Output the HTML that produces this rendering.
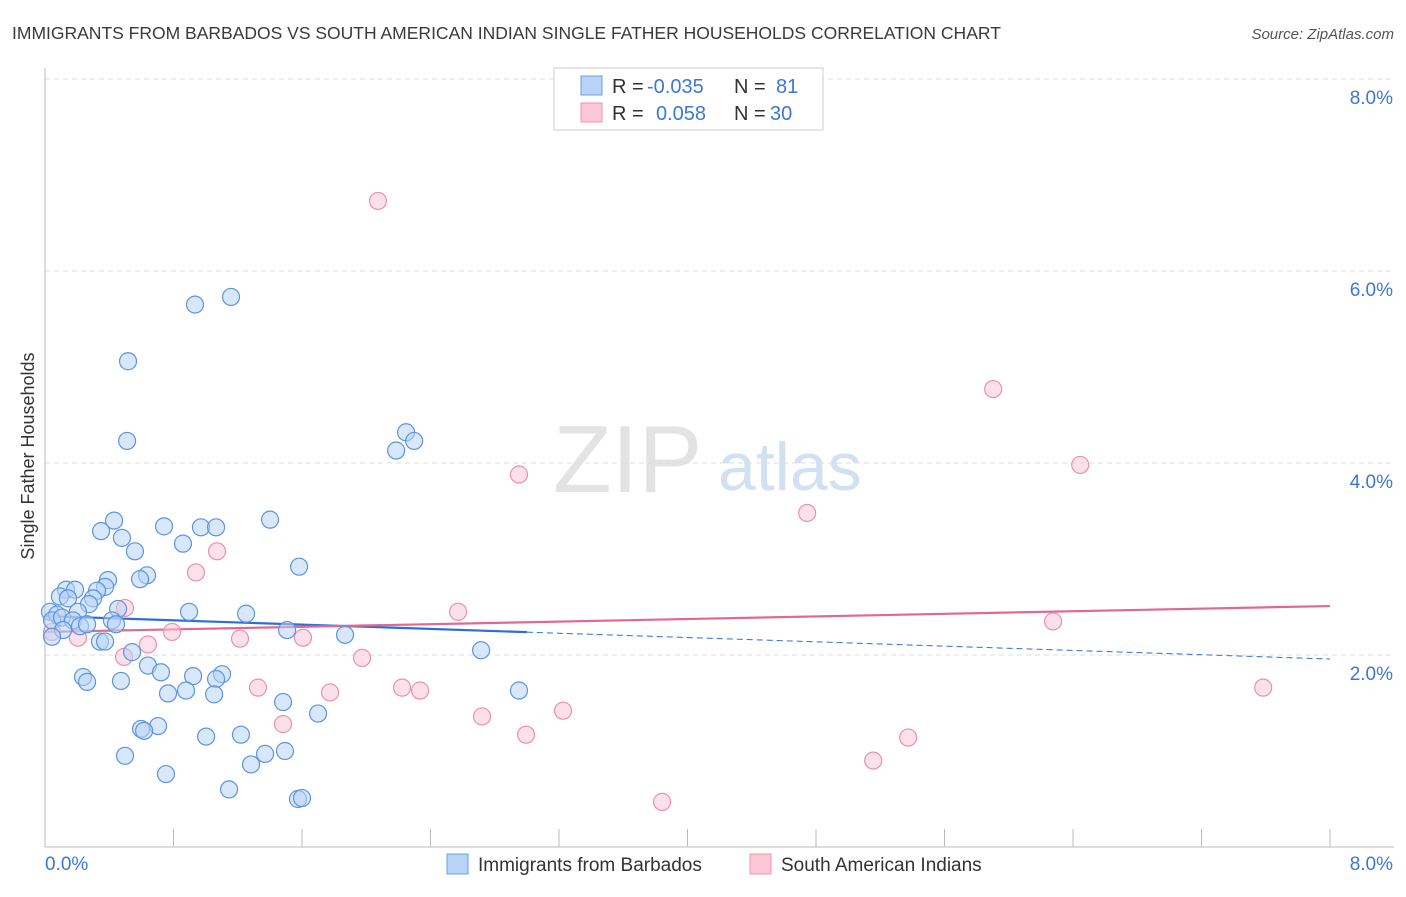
<!DOCTYPE html>
<html><head><meta charset="utf-8"><style>
body{margin:0;background:#fff;font-family:"Liberation Sans",sans-serif;}
svg text{font-family:"Liberation Sans",sans-serif;}
</style></head><body>
<svg id="chart" width="1406" height="892" xmlns="http://www.w3.org/2000/svg">
<text x="12" y="39" font-size="17.5" fill="#3a3a3a">IMMIGRANTS FROM BARBADOS VS SOUTH AMERICAN INDIAN SINGLE FATHER HOUSEHOLDS CORRELATION CHART</text>
<text x="1394" y="39" font-size="15" fill="#555" text-anchor="end" font-style="italic">Source: ZipAtlas.com</text>
<text x="553" y="492" font-size="96" fill="#ddd" font-family="Liberation Serif" opacity="0.8">ZIP</text>
<text x="718" y="490" font-size="68" fill="#c8daf0" opacity="0.8">atlas</text>
<text transform="translate(34,456) rotate(-90)" font-size="18" fill="#333" text-anchor="middle">Single Father Households</text>
<g id="grid"></g><g id="axes"></g><g id="lines"></g><g id="pts"></g>
<g>
<rect x="554" y="68" width="269" height="62" fill="#fff" stroke="#ccc"/>
<rect x="581" y="76" width="21" height="19" fill="#b8d3f5" stroke="#6a9fe0"/>
<rect x="581" y="103" width="21" height="19" fill="#fcc8d8" stroke="#ef90ae"/>
<text x="612" y="93" font-size="20" fill="#333">R =</text><text x="647" y="93" font-size="20" fill="#3b78d8">-0.035</text>
<text x="734" y="93" font-size="20" fill="#333">N =</text><text x="776" y="93" font-size="20" fill="#3b78d8">81</text>
<text x="612" y="120" font-size="20" fill="#333">R =</text><text x="656" y="120" font-size="20" fill="#3b78d8">0.058</text>
<text x="734" y="120" font-size="20" fill="#333">N =</text><text x="770" y="120" font-size="20" fill="#3b78d8">30</text>
</g>
<g>
<rect x="447" y="854" width="21" height="20" fill="#b8d3f5" stroke="#6a9fe0"/>
<text x="478" y="871" font-size="19" fill="#333">Immigrants from Barbados</text>
<rect x="750" y="854" width="21" height="20" fill="#fcc8d8" stroke="#ef90ae"/>
<text x="781" y="871" font-size="19" fill="#333">South American Indians</text>
</g>
</svg>
<script>
const blueX=[0.934,1.158,0.517,0.511,2.248,2.186,2.298,0.430,0.349,0.741,0.971,1.065,1.401,0.479,0.859,0.560,1.582,0.635,0.592,0.392,0.131,0.187,0.093,0.143,0.374,0.324,0.299,0.274,0.455,0.897,1.252,0.031,0.075,0.205,0.417,0.044,0.106,0.174,0.442,0.218,0.262,1.507,1.868,0.112,0.044,0.342,0.374,2.715,0.542,0.641,0.722,0.237,0.262,0.473,0.922,1.102,1.065,0.878,0.766,1.053,2.951,1.482,1.700,0.598,0.704,0.617,1.003,1.220,1.370,1.494,0.498,1.283,0.753,1.146,1.575,1.600];
const blueY=[5.65,5.73,5.06,4.23,4.32,4.13,4.23,3.40,3.29,3.34,3.33,3.33,3.41,3.22,3.16,3.08,2.92,2.83,2.79,2.78,2.68,2.68,2.61,2.59,2.71,2.67,2.59,2.53,2.48,2.45,2.43,2.45,2.42,2.45,2.36,2.36,2.39,2.36,2.32,2.30,2.32,2.26,2.21,2.26,2.19,2.14,2.14,2.05,2.03,1.89,1.82,1.77,1.72,1.73,1.78,1.80,1.75,1.63,1.60,1.59,1.63,1.51,1.39,1.23,1.26,1.21,1.15,1.17,0.97,1.00,0.95,0.86,0.76,0.60,0.50,0.51];
const pinkX=[2.073,5.903,6.445,2.951,4.745,1.071,0.940,0.498,2.572,6.276,0.791,0.205,1.214,1.606,0.641,0.044,0.492,1.974,1.326,1.775,2.223,2.335,7.584,2.721,3.225,1.482,2.995,5.374,5.156,3.842];
const pinkY=[6.73,4.77,3.98,3.88,3.48,3.08,2.86,2.49,2.45,2.35,2.24,2.18,2.17,2.18,2.11,2.24,1.98,1.97,1.66,1.61,1.66,1.63,1.66,1.36,1.42,1.28,1.17,1.14,0.90,0.47];
const blueTrend=[2.406,1.958];
const pinkTrend=[2.24,2.51];
const yTicks=[2,4,6,8];
const xTickLabels=["0.0%","8.0%"];
const NS="http://www.w3.org/2000/svg";
const X=v=>45+v*160.625, Y=v=>847-v*96;
function mk(t,a,p){const e=document.createElementNS(NS,t);for(const k in a)e.setAttribute(k,a[k]);document.getElementById(p).appendChild(e);return e;}
yTicks.forEach(t=>{
 const g=mk('line',{x1:45,x2:1394,y1:Y(t),y2:Y(t),stroke:'#ddd','stroke-dasharray':'5,4'},'grid');
 
 
 const l=mk('text',{x:1393,y:Y(t)+25,'font-size':19,fill:'#3b78d8','text-anchor':'end'},'axes');l.textContent=t.toFixed(1)+'%';
 
 
});
const ax=mk('line',{x1:45,x2:45,y1:68,y2:847,stroke:'#bbb'},'axes');


const bx=mk('line',{x1:45,x2:1394,y1:847,y2:847,stroke:'#bbb'},'axes');


for(let i=0;i<=10;i++){const t=mk('line',{x1:X(i*0.8),x2:X(i*0.8),y1:829,y2:847,stroke:'#bbb'},'axes');
 
 }
const x0=mk('text',{x:45,y:870,'font-size':19,fill:'#3b78d8'},'axes');x0.textContent=xTickLabels[0];


const x1=mk('text',{x:1393,y:870,'font-size':19,fill:'#3b78d8','text-anchor':'end'},'axes');x1.textContent=xTickLabels[1];


function pts(xs,ys,fill,stroke,name){xs.forEach((v,i)=>{const c=mk('circle',{cx:X(v),cy:Y(ys[i]),r:8.5,fill:fill,'fill-opacity':0.55,stroke:stroke,'stroke-width':1.2},'pts');
 
 });}
pts(pinkX,pinkY,'#fcc8d8','#ec8fad','point-south-american-indian');
pts(blueX,blueY,'#b8d3f5','#5b95e0','point-barbados');
const bEnd=3.0, bAt=blueTrend[0]+(blueTrend[1]-blueTrend[0])*bEnd/8;
const bl=mk('line',{x1:X(0),y1:Y(blueTrend[0]),x2:X(bEnd),y2:Y(bAt),stroke:'#2a6fd6','stroke-width':2.2},'lines');


const bd=mk('line',{x1:X(bEnd),y1:Y(bAt),x2:X(8),y2:Y(blueTrend[1]),stroke:'#2a6fd6','stroke-width':1,'stroke-dasharray':'6,4'},'lines');


const pl=mk('line',{x1:X(0),y1:Y(pinkTrend[0]),x2:X(8),y2:Y(pinkTrend[1]),stroke:'#e2688f','stroke-width':2.2},'lines');


</script>
</body></html>
